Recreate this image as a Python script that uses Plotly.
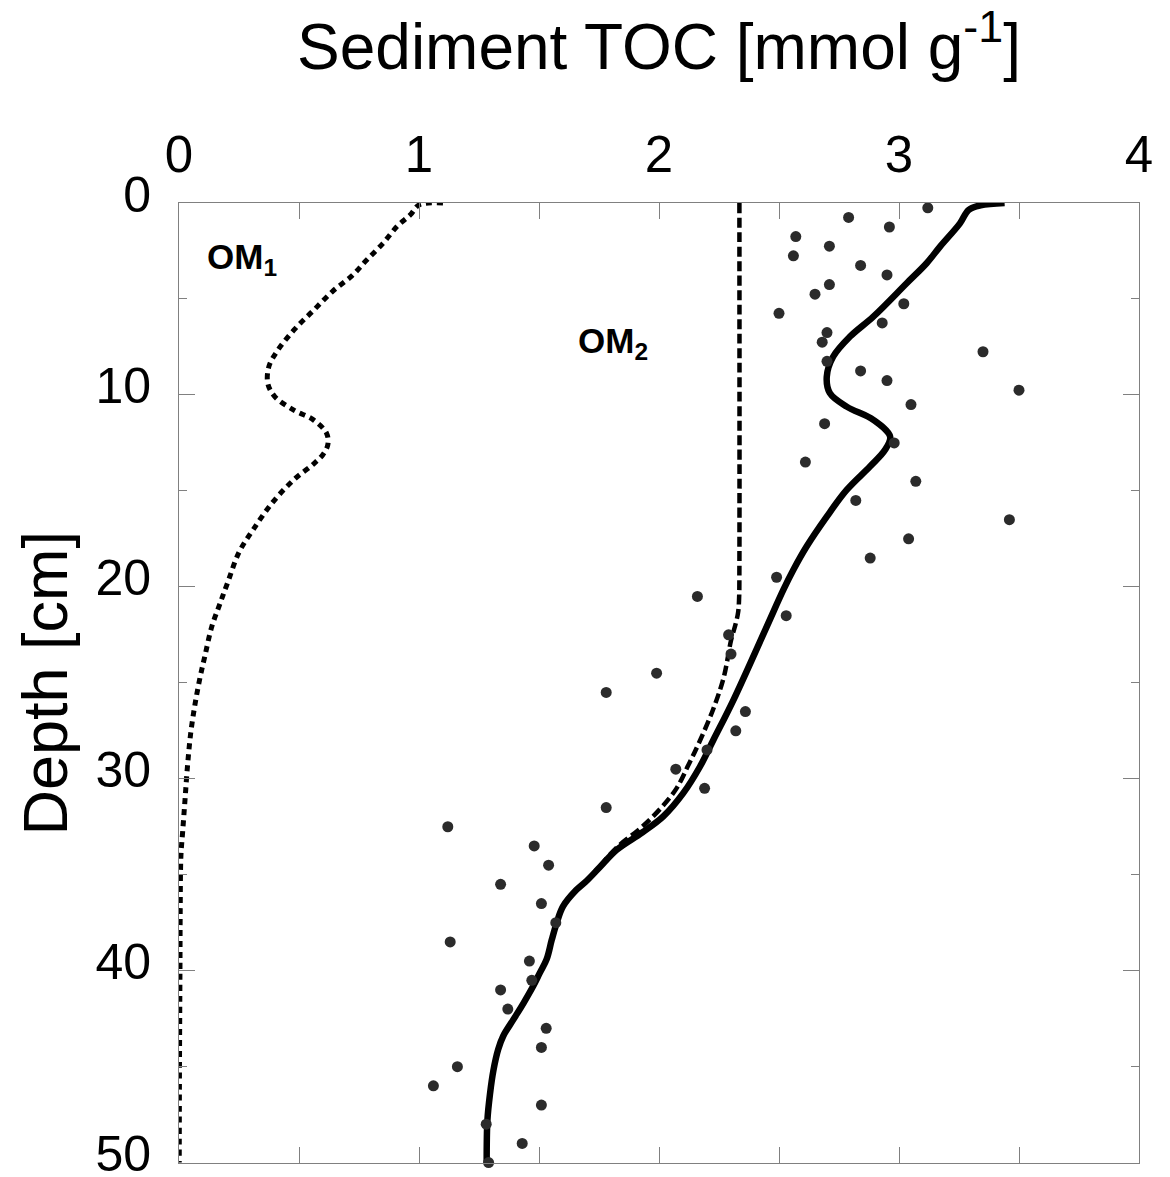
import plotly.graph_objects as go

# ---- measured data (sediment TOC, mmol g^-1, vs depth, cm) ----
obs_depth = [0.25, 0.75, 1.25, 1.75, 2.25, 2.75, 3.25, 3.75, 4.25, 4.75,
             5.25, 5.75, 6.25, 6.75, 7.25, 7.75, 8.25, 8.75, 9.25, 9.75,
             10.5, 11.5, 12.5, 13.5, 14.5, 15.5, 16.5, 17.5, 18.5, 19.5,
             20.5, 21.5, 22.5, 23.5, 24.5, 25.5, 26.5, 27.5, 28.5, 29.5,
             30.5, 31.5, 32.5, 33.5, 34.5, 35.5, 36.5, 37.5, 38.5, 39.5,
             40.5, 41, 42, 43, 44, 45, 46, 47, 48, 49, 50]
obs_toc = [3.12, 2.79, 2.96, 2.57, 2.71, 2.56, 2.84, 2.95, 2.71, 2.65,
           3.02, 2.50, 2.93, 2.70, 2.68, 3.35, 2.70, 2.84, 2.95, 3.50,
           3.05, 2.69, 2.98, 2.61, 3.07, 2.82, 3.46, 3.04, 2.88, 2.49,
           2.16, 2.53, 2.29, 2.30, 1.99, 1.78, 2.36, 2.32, 2.20, 2.07,
           2.19, 1.78, 1.12, 1.48, 1.54, 1.34, 1.51, 1.57, 1.13, 1.46,
           1.47, 1.34, 1.37, 1.53, 1.51, 1.16, 1.06, 1.51, 1.28, 1.43, 1.29]

# ---- model OM1 (dotted) ----
om1_depth = [0.0, 0.1, 0.6, 1.2, 2.1, 3.0, 3.8, 4.6, 5.6, 6.6, 7.7, 8.5, 9.4,
             10.1, 10.8, 11.3, 12.0, 12.6, 13.1, 13.6, 14.4, 15.6, 17.0, 18.2,
             19.7, 20.9, 22.1, 23.6, 24.7, 26.1, 27.6, 29.4, 31.1, 32.8, 34.0,
             37.0, 40.0, 45.0, 50.0]
om1_toc = [1.10, 1.00, 0.965, 0.91, 0.85, 0.78, 0.72, 0.64, 0.56, 0.48, 0.41,
           0.375, 0.37, 0.40, 0.48, 0.56, 0.615, 0.62, 0.60, 0.56, 0.48, 0.39,
           0.31, 0.25, 0.205, 0.17, 0.136, 0.108, 0.088, 0.067, 0.049, 0.035,
           0.025, 0.015, 0.008, 0.005, 0.004, 0.002, 0.001]

# ---- model OM2 (dashed) ----
om2_depth = [0.0, 19.0, 20.5, 21.3, 21.9, 22.8, 24.7, 26.4, 28.2, 29.3, 30.5,
             31.5, 32.6, 33.5, 34.6, 35.3, 35.8, 36.65, 37.5, 38.4, 39.4, 40.1]
om2_toc = [2.335, 2.335, 2.334, 2.33, 2.32, 2.30, 2.27, 2.225, 2.164, 2.122,
           2.073, 2.01, 1.921, 1.831, 1.75, 1.70, 1.655, 1.60, 1.574, 1.553,
           1.532, 1.504]

# ---- model total TOC (solid) ----
tot_depth = [0.0, 0.12, 0.36, 1.06, 2.27, 3.14, 4.18, 5.92, 6.96, 8.0, 9.05,
             9.91, 10.61, 11.30, 12.17, 12.86, 13.73, 14.95, 16.34, 17.9,
             19.11, 20.16, 22.07, 25.9, 27.97, 29.36, 30.75, 31.96, 32.8,
             33.7, 34.6, 35.3, 35.8, 36.65, 37.5, 38.4, 39.4, 40.1, 40.8,
             41.7, 42.55, 43.4, 44.1, 45.2, 46.4, 47.8, 50.0]
tot_toc = [3.44, 3.34, 3.29, 3.254, 3.171, 3.115, 3.032, 2.893, 2.796, 2.726,
           2.699, 2.712, 2.782, 2.893, 2.963, 2.942, 2.879, 2.782, 2.699,
           2.615, 2.56, 2.518, 2.449, 2.31, 2.227, 2.171, 2.101, 2.018, 1.93,
           1.824, 1.754, 1.70, 1.655, 1.60, 1.574, 1.553, 1.532, 1.504, 1.476,
           1.435, 1.393, 1.351, 1.33, 1.31, 1.296, 1.285, 1.282]

x_ticks = [0, 1, 2, 3, 4]
y_ticks = [0, 10, 20, 30, 40, 50]

FONT = "Liberation Sans, Arial, sans-serif"
AXC = "#808080"

fig = go.Figure()
fig.add_trace(go.Scatter(x=om1_toc, y=om1_depth, mode="lines",
                         line=dict(color="black", width=5, dash="6px,5px",
                                   shape="spline", smoothing=1.0),
                         cliponaxis=False))
fig.add_trace(go.Scatter(x=om2_toc, y=om2_depth, mode="lines",
                         line=dict(color="black", width=4.5, dash="10px,4.5px",
                                   shape="spline", smoothing=1.0),
                         cliponaxis=False))
fig.add_trace(go.Scatter(x=tot_toc, y=tot_depth, mode="lines",
                         line=dict(color="black", width=6.5,
                                   shape="spline", smoothing=1.0),
                         cliponaxis=False))
fig.add_trace(go.Scatter(x=obs_toc, y=obs_depth, mode="markers",
                         marker=dict(color="#2b2b2b", size=11),
                         cliponaxis=False))

fig.update_layout(
    width=1170, height=1177,
    margin=dict(l=179, r=31, t=203, b=14, autoexpand=False),
    plot_bgcolor="white", paper_bgcolor="white",
    showlegend=False,
    font=dict(family=FONT, color="black"),
)
fig.update_xaxes(
    range=[0, 4], side="top", tickvals=x_ticks, automargin=False,
    ticks="inside", ticklen=16, tickcolor=AXC, tickwidth=1,
    showline=True, linecolor=AXC, linewidth=1, mirror="ticks",
    showgrid=False, zeroline=False,
    tickfont=dict(size=51, family=FONT), ticklabelstandoff=10,
    minor=dict(dtick=0.5, tick0=0, ticks="inside", ticklen=16,
               tickcolor=AXC, showgrid=False),
)
fig.update_yaxes(
    range=[50.02, 0], tickvals=y_ticks, automargin=False,
    ticks="inside", ticklen=16, tickcolor=AXC, tickwidth=1,
    showline=True, linecolor=AXC, linewidth=1, mirror="ticks",
    showgrid=False, zeroline=False, ticklabeloverflow="allow",
    tickfont=dict(size=50, family=FONT), ticklabelstandoff=17,
    ticklabelshift=9,
    minor=dict(dtick=5, tick0=0, ticks="inside", ticklen=8,
               tickcolor=AXC, showgrid=False),
)

fig.add_annotation(text="Sediment TOC [mmol g<sup>-1</sup>]",
                   xref="paper", yref="paper", x=0.5, y=1.1677,
                   xanchor="center", yanchor="middle", showarrow=False,
                   font=dict(size=64, family=FONT))
fig.add_annotation(text="Depth [cm]", textangle=-90,
                   xref="paper", yref="paper", x=-0.14, y=0.5,
                   xanchor="center", yanchor="middle", showarrow=False,
                   font=dict(size=63, family=FONT))
fig.add_annotation(text="<b>OM<sub>1</sub></b>", x=0.263, y=2.9,
                   xanchor="center", yanchor="middle", showarrow=False,
                   font=dict(size=35, family=FONT))
fig.add_annotation(text="<b>OM<sub>2</sub></b>", x=1.81, y=7.3,
                   xanchor="center", yanchor="middle", showarrow=False,
                   font=dict(size=35, family=FONT))

fig.write_html("out.html")
